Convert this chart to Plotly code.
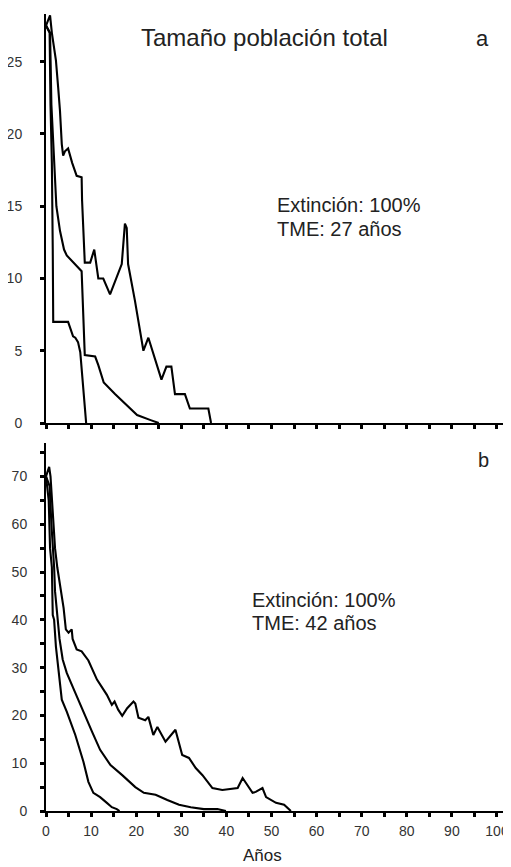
import plotly.graph_objects as go

# ---------------- data (years, population size) ----------------
# Panel a
a_max_x = [0, 0.9, 1.3, 2.2, 2.7, 3.1, 3.5, 3.8, 4.2, 4.9, 5.8, 6.8, 7.9, 8.0, 8.6, 9.8, 10.7, 11.6, 12.7, 14.2,
           16.8, 17.5, 17.9, 18.2, 19.7, 20.5, 21.6, 22.7, 25.6, 26.7, 27.8, 28.6, 30.8, 31.9, 36.0, 36.6]
a_max_y = [27.5, 28.2, 27.0, 25.1, 23.2, 21.6, 19.3, 18.5, 18.8, 19.0, 18.0, 17.1, 17.0, 15.4, 11.1, 11.1, 12.0, 10.0, 10.0, 8.9,
           11.0, 13.8, 13.5, 11.0, 8.5, 7.0, 5.0, 5.9, 3.0, 3.9, 3.9, 2.0, 2.0, 1.0, 1.0, 0]

a_mean_x = [0, 0.9, 1.2, 1.6, 2.1, 2.3, 3.1, 4.0, 4.6, 6.8, 7.5, 7.9, 8.6, 10.9, 11.6, 12.8, 15.3, 18.0, 20.2, 23.2, 25.0]
a_mean_y = [27.5, 27.0, 22.0, 19.6, 17.0, 15.0, 13.3, 12.0, 11.6, 10.9, 10.7, 10.5, 4.7, 4.6, 4.0, 2.8, 2.0, 1.2, 0.55, 0.2, 0]

a_min_x = [0, 0.8, 1.0, 1.3, 1.5, 1.6, 4.9, 6.0, 6.5, 7.1, 7.6, 8.0, 8.9]
a_min_y = [27.5, 27.0, 22.0, 18.0, 12.0, 7.0, 7.0, 6.0, 5.9, 5.6, 4.9, 3.5, 0]

# Panel b
b_max_x = [0, 0.7, 1.0, 1.3, 1.7, 2.0, 2.5, 3.1, 3.9, 4.4, 5.0, 5.7, 5.9, 6.8, 7.9, 9.4, 11.3, 13.5, 14.6, 15.2,
           16.0, 16.9, 18.0, 19.4, 19.8, 20.5, 22.0, 22.7, 23.8, 24.7, 26.5, 28.7, 30.2, 31.7, 33.2, 34.7,
           36.9, 39.1, 42.5, 43.6, 45.8, 46.5, 48.0, 48.8, 51.0, 52.8, 54.3]
b_max_y = [70, 72, 70, 65, 60, 55, 51, 47.5, 42.5, 38, 37.3, 38, 36, 33.8, 33.4, 31.5, 27.5, 24.3, 22.2, 22.9,
           21.2, 19.9, 21.5, 22.9, 22.5, 19.5, 19.0, 19.7, 15.9, 17.6, 14.5, 17.0, 11.7, 11.1, 9.0, 7.5,
           4.8, 4.4, 4.8, 6.9, 3.8, 4.0, 4.8, 2.9, 1.7, 1.3, 0]

b_mean_x = [0, 0.8, 1.2, 1.6, 1.8, 2.0, 2.4, 3.0, 3.7, 4.6, 6.5, 8.7, 10.2, 12.0, 14.3, 16.9, 19.8, 21.7, 24.3,
            26.9, 29.5, 32.1, 35.0, 38.0, 39.9]
b_mean_y = [70, 68, 60, 55, 51, 46, 41.5, 36, 31.7, 28.9, 24.7, 20.1, 16.6, 12.8, 9.6, 7.5, 5.0, 3.8, 3.4,
            2.3, 1.3, 0.8, 0.4, 0.4, 0]

b_min_x = [0, 0.6, 0.9, 1.3, 1.5, 1.8, 2.2, 2.7, 3.3, 3.5, 4.6, 6.5, 8.3, 9.4, 10.5, 12.0, 13.5, 14.6, 15.7, 16.3]
b_min_y = [70, 65, 55, 51, 41, 40, 34.4, 29.6, 25.4, 23.3, 20.8, 15.9, 10.3, 6.1, 3.8, 2.9, 1.7, 0.8, 0.4, 0]

title_text = "Tamaño población total"
xlabel = "Años"
note_a = ["Extinción: 100%", "TME: 27 años"]
note_b = ["Extinción: 100%", "TME: 42 años"]

# ---------------- figure ----------------
FONT = "Liberation Sans, Arial, sans-serif"
# the page body has an 8px default margin, so the figure is a bit smaller
W, H = 503, 859
ML, MR, MT, MB = 38, 5, 2, 56
PW, PH = W - ML - MR, H - MT - MB
PAGE_L, PAGE_B = 8 + ML, 8 + H - MB   # plot-area left / bottom in page pixels


def px_x(p):
    return (p - PAGE_L) / PW


def px_y(p):
    return (PAGE_B - p) / PH


fig = go.Figure()
line = dict(color="black", width=2.1)
for xs, ys in [(a_max_x, a_max_y), (a_mean_x, a_mean_y), (a_min_x, a_min_y)]:
    fig.add_trace(go.Scatter(x=xs, y=ys, mode="lines", line=line, xaxis="x", yaxis="y", showlegend=False))
for xs, ys in [(b_max_x, b_max_y), (b_mean_x, b_mean_y), (b_min_x, b_min_y)]:
    fig.add_trace(go.Scatter(x=xs, y=ys, mode="lines", line=line, xaxis="x2", yaxis="y2", showlegend=False))

tickfont = dict(family=FONT, size=14, color="#333")
ax_common = dict(showgrid=False, zeroline=False, showline=True, linecolor="black", linewidth=2,
                 ticks="outside", ticklen=4, tickwidth=3, tickcolor="black", tickfont=tickfont,
                 automargin=False)
minor = dict(dtick=5, ticks="outside", ticklen=4, tickwidth=3, tickcolor="black")

fig.update_layout(
    width=W, height=H,
    margin=dict(l=ML, r=MR, t=MT, b=MB),
    paper_bgcolor="white", plot_bgcolor="white",
    font=dict(family=FONT, color="#222"),
    xaxis=dict(domain=[0, 1], anchor="y", range=[0, 102], dtick=5, tick0=0, showticklabels=False, **ax_common),
    yaxis=dict(domain=[px_y(423), px_y(14)], anchor="x", range=[0, 28.3], dtick=5, tick0=0,
               ticklabelstandoff=15, **ax_common),
    xaxis2=dict(domain=[0, 1], anchor="y2", range=[0, 102], dtick=10, tick0=0, ticklabelstandoff=2,
                minor=minor, **ax_common),
    yaxis2=dict(domain=[0, px_y(443)], anchor="x2", range=[0, 77], dtick=10, tick0=0, ticklabelstandoff=10,
                minor=minor, **ax_common),
)


def ann(text, x, y, size, xanchor="left"):
    fig.add_annotation(text=text, xref="paper", yref="paper", x=px_x(x), y=px_y(y),
                       xanchor=xanchor, yanchor="middle", showarrow=False,
                       font=dict(family=FONT, size=size, color="#222"))


ann(title_text, 264, 38, 24, "center")
ann("a", 482, 39, 22, "center")
ann("b", 483, 460, 20, "center")
ann(note_a[0], 275, 205, 20)
ann(note_a[1], 275, 229, 20)
ann(note_b[0], 250, 600, 20)
ann(note_b[1], 250, 623, 20)
ann(xlabel, 262, 856, 17, "center")

fig.write_html("out.html")
